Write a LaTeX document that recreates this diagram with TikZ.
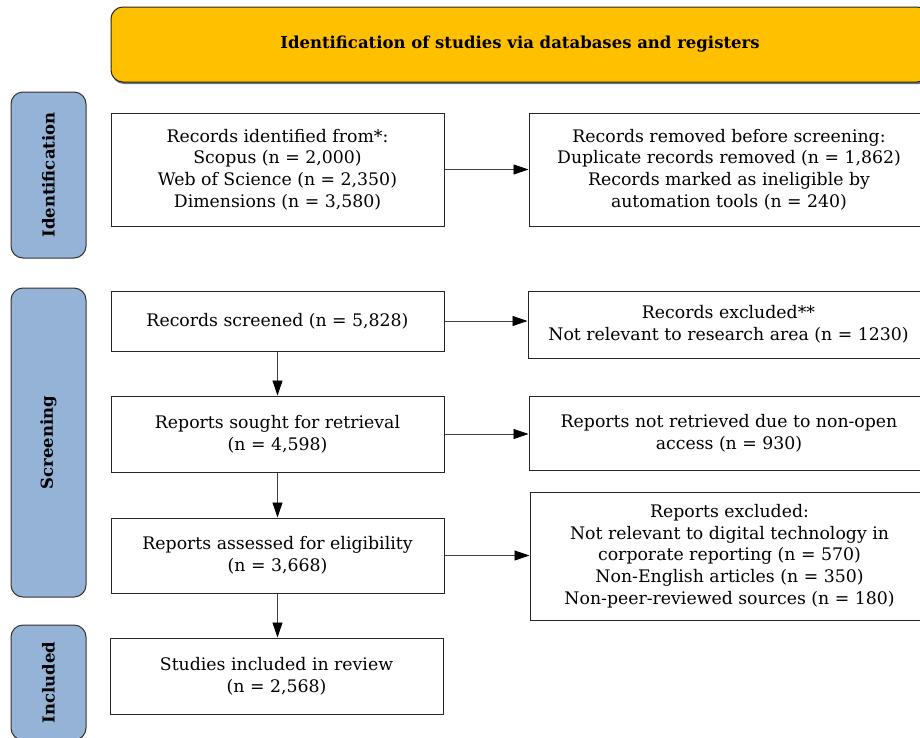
\documentclass[tikz,border=0pt]{standalone}
\usepackage{fontspec}
\setmainfont{DejaVu Serif}
\usetikzlibrary{arrows.meta}
\definecolor{headfill}{HTML}{FFC000}
\definecolor{sidefill}{HTML}{95B3D7}
\definecolor{linegray}{HTML}{404040}
\tikzset{
  box/.style={draw=black!85, line width=1pt, fill=white, align=center, inner sep=0pt,
    font=\fontsize{17.3}{21.7}\selectfont},
  sidebox/.style={draw=black!80, line width=1pt, fill=sidefill, rounded corners=12pt,
    rotate=90, inner sep=0pt, font=\bfseries\fontsize{16.5}{19}\selectfont},
  headbox/.style={draw=black!85, line width=1pt, fill=headfill, rounded corners=12pt,
    inner sep=0pt, font=\bfseries\fontsize{16.5}{19}\selectfont},
  arr/.style={draw=linegray, line width=0.8pt, -{Triangle[length=15pt,width=10pt,color=black]}}
}
\begin{document}
\begin{tikzpicture}[x=1pt,y=-1pt]
\useasboundingbox (0,0) rectangle (920,737);
\clip (0,0) rectangle (920,737);
\fill[white] (0,0) rectangle (920,737);

% header (with slight shadow)
\fill[black!55, rounded corners=12pt] (112,9) rectangle (931,84);
\node[headbox, minimum width=818pt, minimum height=75pt] (head) at (520,44.5)
  {Identification of studies via databases and registers};

% side labels
\node[sidebox, minimum width=166pt, minimum height=75pt] (sid) at (48.5,175) {Identification};
\node[sidebox, minimum width=309pt, minimum height=75pt] (sscr) at (48.5,442.5) {Screening};
\node[sidebox, minimum width=115pt, minimum height=75pt] (sinc) at (48.5,682.5) {Included};

% left column
\node[box, minimum width=333pt, minimum height=113pt] (b1) at (277.5,169.5)
  {Records identified from*:\\Scopus (n = 2,000)\\Web of Science (n = 2,350)\\Dimensions (n = 3,580)};
\node[box, minimum width=333pt, minimum height=60pt] (b3) at (277.5,321)
  {Records screened (n = 5,828)};
\node[box, minimum width=333pt, minimum height=76pt] (b5) at (277.5,434)
  {Reports sought for retrieval\\(n = 4,598)};
\node[box, minimum width=333pt, minimum height=75pt] (b7) at (277.5,555.5)
  {Reports assessed for eligibility\\(n = 3,668)};
\node[box, minimum width=333pt, minimum height=76pt] (b9) at (276.5,676)
  {Studies included in review\\(n = 2,568)};

% right column
\node[box, minimum width=400pt, minimum height=113pt] (b2) at (729,169.5)
  {Records removed before screening:\\Duplicate records removed (n = 1,862)\\Records marked as ineligible by\\automation tools (n = 240)};
\node[box, minimum width=401pt, minimum height=67pt] (b4) at (728.5,324.5)
  {Records excluded**\\Not relevant to research area (n = 1230)};
\node[box, minimum width=400pt, minimum height=74pt] (b6) at (729,433)
  {Reports not retrieved due to non-open\\access (n = 930)};
\node[box, minimum width=399pt, minimum height=128pt] (b8) at (729.5,556)
  {Reports excluded:\\Not relevant to digital technology in\\corporate reporting (n = 570)\\Non-English articles (n = 350)\\Non-peer-reviewed sources (n = 180)};

% connectors
\draw[arr] (b1.east) -- (b1.east -| b2.west);
\draw[arr] (b3.east) -- (b3.east -| b4.west);
\draw[arr] (b5.east) -- (b5.east -| b6.west);
\draw[arr] (b7.east) -- (b7.east -| b8.west);
\draw[arr] (b3.south) -- (b5.north);
\draw[arr] (b5.south) -- (b7.north);
\draw[arr] (b7.south) -- (b7.south |- b9.north);
\end{tikzpicture}
\end{document}
